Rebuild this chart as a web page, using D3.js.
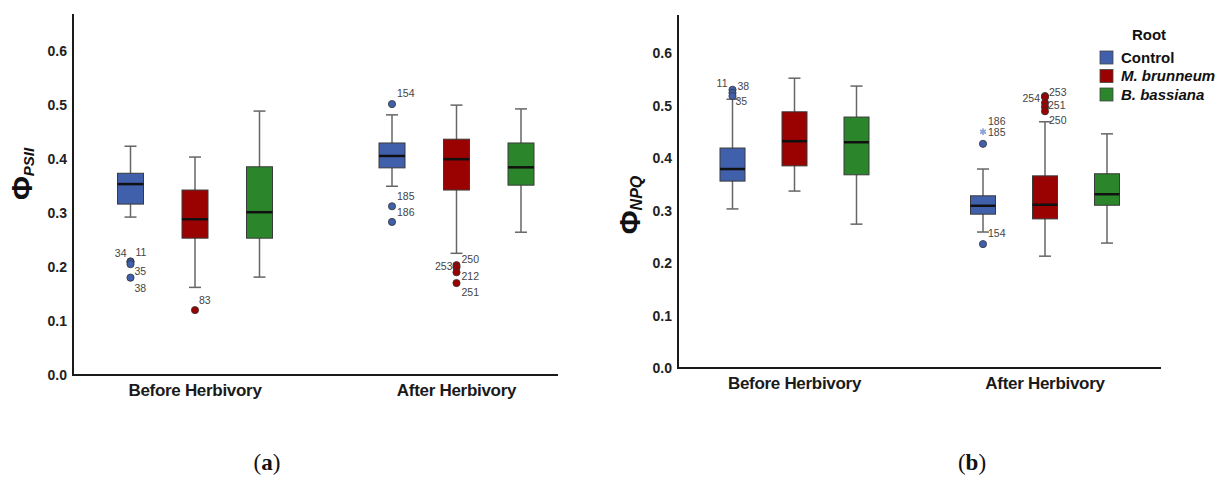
<!DOCTYPE html>
<html>
<head>
<meta charset="utf-8">
<script src="https://cdn.jsdelivr.net/npm/d3@7"></script>
<style>
  body { margin: 0; background: #fff; }
  text { font-family: "Liberation Sans", Arial, sans-serif; }
</style>
</head>
<body>
<script>
// categories
var phases = ["Before Herbivory", "After Herbivory"];
var roots = ["Control", "M. brunneum", "B. bassiana"];
var rootColors = ["#4160ac", "#9a0101", "#2b862b"];
var yTicks = [0, 0.1, 0.2, 0.3, 0.4, 0.5, 0.6];

// box stats: [phase, root, low whisker, Q1, median, Q3, high whisker]
var psiiBoxes = [
  [0, 0, 0.292, 0.316, 0.353, 0.373, 0.423],
  [0, 1, 0.162, 0.253, 0.288, 0.342, 0.403],
  [0, 2, 0.181, 0.253, 0.301, 0.385, 0.488],
  [1, 0, 0.349, 0.383, 0.405, 0.429, 0.481],
  [1, 1, 0.225, 0.342, 0.399, 0.436, 0.499],
  [1, 2, 0.264, 0.351, 0.384, 0.429, 0.492]
];
var npqBoxes = [
  [0, 0, 0.303, 0.356, 0.379, 0.419, 0.512],
  [0, 1, 0.337, 0.385, 0.432, 0.488, 0.552],
  [0, 2, 0.274, 0.368, 0.430, 0.478, 0.537],
  [1, 0, 0.259, 0.293, 0.309, 0.328, 0.379],
  [1, 1, 0.213, 0.284, 0.311, 0.366, 0.469],
  [1, 2, 0.238, 0.310, 0.331, 0.370, 0.446]
];

// outliers: [phase, root, value, case label]
var psiiOutliers = [
  [0, 0, 0.210, "34"], [0, 0, 0.209, "11"], [0, 0, 0.205, "35"], [0, 0, 0.180, "38"],
  [0, 1, 0.120, "83"],
  [1, 0, 0.501, "154"], [1, 0, 0.312, "185"], [1, 0, 0.283, "186"],
  [1, 1, 0.203, "250"], [1, 1, 0.199, "253"], [1, 1, 0.190, "212"], [1, 1, 0.170, "251"]
];
var npqOutliers = [
  [0, 0, 0.530, "11"], [0, 0, 0.524, "38"], [0, 0, 0.518, "35"],
  [1, 0, 0.427, ""], [1, 0, 0.236, "154"],
  [1, 1, 0.518, "253"], [1, 1, 0.516, "254"], [1, 1, 0.505, "251"], [1, 1, 0.497, ""], [1, 1, 0.489, "250"]
];
// extremes drawn as stars
var npqExtremes = [[1, 0, 0.450, "185"], [1, 0, 0.450, "186"]];

// label placement for case numbers: [dx, dy, anchor]
var labelPosA = {
  "34": [-4, -4, "end"], "11": [5, -6, "start"], "35": [4, 11, "start"], "38": [4, 14, "start"],
  "83": [4, -6, "start"], "154": [5, -7, "start"], "185": [5, -6, "start"], "186": [5, -6, "start"],
  "250": [5, -2, "start"], "253": [-4, 3, "end"], "212": [5, 8, "start"], "251": [5, 13, "start"]
};
var labelPosB = {
  "11": [-5, -3, "end"], "38": [5, -3, "start"], "35": [3, 9, "start"], "154": [5, -7, "start"],
  "253": [4, 0, "start"], "254": [-5, 5, "end"], "251": [3, 6, "start"], "250": [4, 13, "start"],
  "185": [5, 4, "start"], "186": [5, -7, "start"]
};

var W = 1226, H = 478;
var svg = d3.select("body").append("svg")
  .attr("width", W)
  .attr("height", H);
svg.append("rect").attr("width", W).attr("height", H).attr("fill", "#fff");

function drawPanel(cfg) {
  var g = svg.append("g");
  var y = d3.scaleLinear().domain([0, 0.6]).range([cfg.y0, cfg.y6]);
  var xp = d3.scalePoint().domain(d3.range(phases.length)).range(cfg.phaseX);
  var xr = d3.scalePoint().domain(d3.range(roots.length)).range([-cfg.step, cfg.step]);
  function cx(p, r) { return xp(p) + xr(r); }
  var bw = cfg.boxW;

  // axes lines
  g.append("line")
    .attr("x1", cfg.left).attr("x2", cfg.left)
    .attr("y1", cfg.top).attr("y2", cfg.y0 + 1)
    .attr("stroke", "#1a1a1a").attr("stroke-width", 2);
  g.append("line")
    .attr("x1", cfg.left - 1).attr("x2", cfg.right)
    .attr("y1", cfg.y0).attr("y2", cfg.y0)
    .attr("stroke", "#1a1a1a").attr("stroke-width", 2);

  // y tick labels
  g.selectAll(".ytick").data(yTicks).enter().append("text")
    .attr("x", cfg.left - 6)
    .attr("y", function(d) { return y(d) + 5; })
    .attr("text-anchor", "end")
    .attr("font-size", 14).attr("font-weight", "bold").attr("fill", "#222")
    .text(function(d) { return d3.format(".1f")(d); });

  // x category labels
  g.selectAll(".xcat").data(phases).enter().append("text")
    .attr("x", function(d, i) { return xp(i); })
    .attr("y", cfg.catY)
    .attr("text-anchor", "middle")
    .attr("font-size", 17).attr("font-weight", "bold").attr("fill", "#1a1a1a")
    .attr("letter-spacing", -0.3)
    .text(function(d) { return d; });

  // y title
  var t = g.append("text")
    .attr("transform", "translate(" + cfg.titleX + "," + cfg.titleY + ") rotate(-90)")
    .attr("text-anchor", "middle").attr("fill", "#111").attr("font-weight", "bold");
  t.append("tspan").attr("font-size", 29).text("Φ");
  t.append("tspan").attr("font-size", cfg.subSize).attr("font-style", "italic").attr("dy", 2).text(cfg.sub);

  // boxes
  var boxes = g.selectAll(".box").data(cfg.boxes).enter().append("g");
  boxes.append("line")
    .attr("x1", function(d) { return cx(d[0], d[1]); })
    .attr("x2", function(d) { return cx(d[0], d[1]); })
    .attr("y1", function(d) { return y(d[2]); })
    .attr("y2", function(d) { return y(d[6]); })
    .attr("stroke", "#666").attr("stroke-width", 1.5);
  [2, 6].forEach(function(k) {
    boxes.append("line")
      .attr("x1", function(d) { return cx(d[0], d[1]) - 6; })
      .attr("x2", function(d) { return cx(d[0], d[1]) + 6; })
      .attr("y1", function(d) { return y(d[k]); })
      .attr("y2", function(d) { return y(d[k]); })
      .attr("stroke", "#666").attr("stroke-width", 1.5);
  });
  boxes.append("rect")
    .attr("x", function(d) { return cx(d[0], d[1]) - bw / 2; })
    .attr("width", bw)
    .attr("y", function(d) { return y(d[5]); })
    .attr("height", function(d) { return y(d[3]) - y(d[5]); })
    .attr("fill", function(d) { return rootColors[d[1]]; })
    .attr("stroke", "#3a3a3a").attr("stroke-width", 1);
  boxes.append("line")
    .attr("x1", function(d) { return cx(d[0], d[1]) - bw / 2; })
    .attr("x2", function(d) { return cx(d[0], d[1]) + bw / 2; })
    .attr("y1", function(d) { return y(d[4]); })
    .attr("y2", function(d) { return y(d[4]); })
    .attr("stroke", "#111").attr("stroke-width", 2.5);

  // outliers
  g.selectAll(".out").data(cfg.outliers).enter().append("circle")
    .attr("cx", function(d) { return cx(d[0], d[1]); })
    .attr("cy", function(d) { return y(d[2]); })
    .attr("r", 3.6)
    .attr("fill", function(d) { return rootColors[d[1]]; })
    .attr("stroke", "#333").attr("stroke-width", 0.8);

  if (cfg.extremes) {
    g.selectAll(".ext").data(cfg.extremes).enter().append("path")
      .attr("d", d3.symbol(d3.symbolAsterisk, 30))
      .attr("transform", function(d) { return "translate(" + cx(d[0], d[1]) + "," + y(d[2]) + ")"; })
      .attr("stroke", "#8fa3d6").attr("stroke-width", 1.3).attr("fill", "none");
  }

  var labelled = cfg.outliers.concat(cfg.extremes || []).filter(function(d) { return d[3] !== ""; });
  g.selectAll(".olab").data(labelled).enter().append("text")
    .attr("x", function(d) { return cx(d[0], d[1]) + cfg.labelPos[d[3]][0]; })
    .attr("y", function(d) { return y(d[2]) + cfg.labelPos[d[3]][1]; })
    .attr("text-anchor", function(d) { return cfg.labelPos[d[3]][2]; })
    .attr("font-size", 10.5).attr("fill", "#444")
    .text(function(d) { return d[3]; });
}

drawPanel({
  left: 73, right: 558, top: 14, y0: 375, y6: 50.5,
  phaseX: [195, 456.5], step: 64.5, boxW: 26, catY: 396,
  titleX: 32, titleY: 174, sub: "PSII", subSize: 15,
  boxes: psiiBoxes, outliers: psiiOutliers, labelPos: labelPosA
});
drawPanel({
  left: 678, right: 1161, top: 15, y0: 368, y6: 53,
  phaseX: [794.5, 1045], step: 62, boxW: 25, catY: 389,
  titleX: 640, titleY: 205, sub: "NPQ", subSize: 16,
  boxes: npqBoxes, outliers: npqOutliers, extremes: npqExtremes, labelPos: labelPosB
});

// legend
var leg = svg.append("g");
leg.append("text").attr("x", 1149).attr("y", 40).attr("text-anchor", "middle")
  .attr("font-size", 15).attr("font-weight", "bold").attr("fill", "#111").text("Root");
var items = leg.selectAll(".li").data(roots).enter().append("g")
  .attr("transform", function(d, i) { return "translate(1100," + (51 + i * 18.5) + ")"; });
items.append("rect").attr("width", 13).attr("height", 13)
  .attr("fill", function(d, i) { return rootColors[i]; })
  .attr("stroke", "#444").attr("stroke-width", 0.8);
items.append("text").attr("x", 21).attr("y", 11.5)
  .attr("font-size", 15).attr("font-weight", "bold").attr("fill", "#111")
  .attr("font-style", function(d, i) { return i === 0 ? "normal" : "italic"; })
  .text(function(d) { return d; });

// panel captions
var caps = [["a", 267], ["b", 972]];
caps.forEach(function(c) {
  var t = svg.append("text").attr("x", c[1]).attr("y", 470).attr("text-anchor", "middle")
    .attr("font-family", "'Liberation Serif', 'DejaVu Serif', serif").attr("font-size", 23).attr("fill", "#111")
    .style("font-family", "'Liberation Serif', serif");
  t.append("tspan").text("(");
  t.append("tspan").attr("font-weight", "bold").text(c[0]);
  t.append("tspan").text(")");
});
</script>
</body>
</html>
